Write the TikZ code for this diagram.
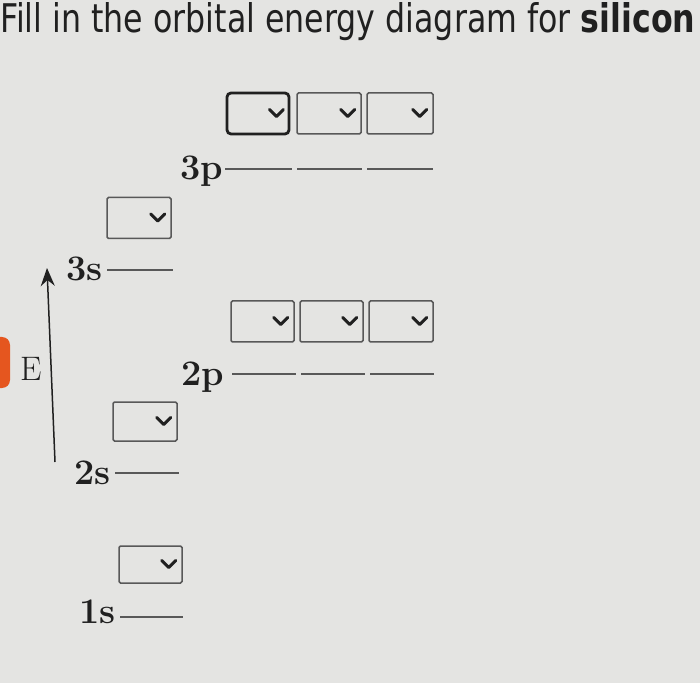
\documentclass[tikz,border=0pt]{standalone}
\usepackage{fontspec}
\setsansfont{DejaVu Sans}
\usetikzlibrary{calc,arrows.meta}
\definecolor{bg}{HTML}{E4E4E2}
\definecolor{ln}{HTML}{585858}
\definecolor{orng}{HTML}{E5561F}
\definecolor{ink}{HTML}{202020}
\tikzset{
 x=1pt, y=1pt,
 dd/.style={draw=ln, line width=1.5pt, minimum width=64pt, minimum height=41pt, inner sep=0pt, fill=bg, rounded corners=1.5pt},
 ddfocus/.style={dd, draw=ink, line width=2.8pt, rounded corners=4pt},
 lvl/.style={draw=ln, line width=2.6pt},
 lab/.style={font=\bfseries\fontsize{36}{36}\selectfont, inner sep=0pt, anchor=base east, text=ink},
 chev/.style={draw=ink, line width=3pt, line cap=round, line join=round}
}
\newcommand\chv[1]{\draw[chev] ($(#1.east)+(-21,4)$) -- ($(#1.east)+(-14,-3)$) -- ($(#1.east)+(-7,4)$);}
\begin{document}
\begin{tikzpicture}
\fill[bg] (0,0) rectangle (700,683);
\useasboundingbox (0,0) rectangle (700,683);
% title
\node[anchor=base west, inner sep=0pt, text=ink] (title) at (0,650)
 {\resizebox{695pt}{30pt}{\sffamily Fill in the orbital energy diagram for \textbf{silicon}}};
% orange tab at the left edge
\fill[orng, rounded corners=8pt] (-20,295) rectangle (10,346);
% energy axis
\node[anchor=base west, inner sep=0pt, text=ink, font=\fontsize{34}{34}\selectfont] (E) at (20,303) {E};
\coordinate (eb) at (55,221);
\coordinate (et) at (47,415);
\draw[ink, line width=1.5pt, -{Stealth[length=18pt, width=14pt, inset=6pt]}] (eb) -- (et);
% 3p
\node[ddfocus, minimum width=62pt] (b3p1) at (258,569.5) {};
\node[dd] (b3p2) at (329,569.5) {};
\node[dd, minimum width=66pt] (b3p3) at (400,569.5) {};
\chv{b3p1}\chv{b3p2}\chv{b3p3}
\node[lab] (l3p) at (223,503) {3p};
\coordinate (p3a) at (225,514); \coordinate (p3b) at (292,514);
\coordinate (p3c) at (297,514); \coordinate (p3d) at (362,514);
\coordinate (p3e) at (367,514); \coordinate (p3f) at (433,514);
\draw[lvl] (p3a) -- (p3b); \draw[lvl] (p3c) -- (p3d); \draw[lvl] (p3e) -- (p3f);
% 3s
\node[dd] (b3s) at (139,465) {};
\chv{b3s}
\node[lab] (l3s) at (103,402) {3s};
\coordinate (s3a) at (107,413); \coordinate (s3b) at (173,413);
\draw[lvl] (s3a) -- (s3b);
% 2p
\node[dd, minimum width=63pt] (b2p1) at (262.5,361.5) {};
\node[dd, minimum width=63pt] (b2p2) at (331.5,361.5) {};
\node[dd, minimum width=64pt] (b2p3) at (401,361.5) {};
\chv{b2p1}\chv{b2p2}\chv{b2p3}
\node[lab] (l2p) at (224,298) {2p};
\coordinate (p2a) at (232,309); \coordinate (p2b) at (296,309);
\coordinate (p2c) at (301,309); \coordinate (p2d) at (365,309);
\coordinate (p2e) at (370,309); \coordinate (p2f) at (434,309);
\draw[lvl] (p2a) -- (p2b); \draw[lvl] (p2c) -- (p2d); \draw[lvl] (p2e) -- (p2f);
% 2s
\node[dd, minimum height=39pt] (b2s) at (145,261.5) {};
\chv{b2s}
\node[lab] (l2s) at (111,199) {2s};
\coordinate (s2a) at (115,210); \coordinate (s2b) at (179,210);
\draw[lvl] (s2a) -- (s2b);
% 1s
\node[dd, minimum width=63pt, minimum height=37pt] (b1s) at (150.5,118.5) {};
\chv{b1s}
\node[lab] (l1s) at (116,60) {1s};
\coordinate (s1a) at (120,66); \coordinate (s1b) at (183,66);
\draw[lvl] (s1a) -- (s1b);
\end{tikzpicture}
\end{document}
